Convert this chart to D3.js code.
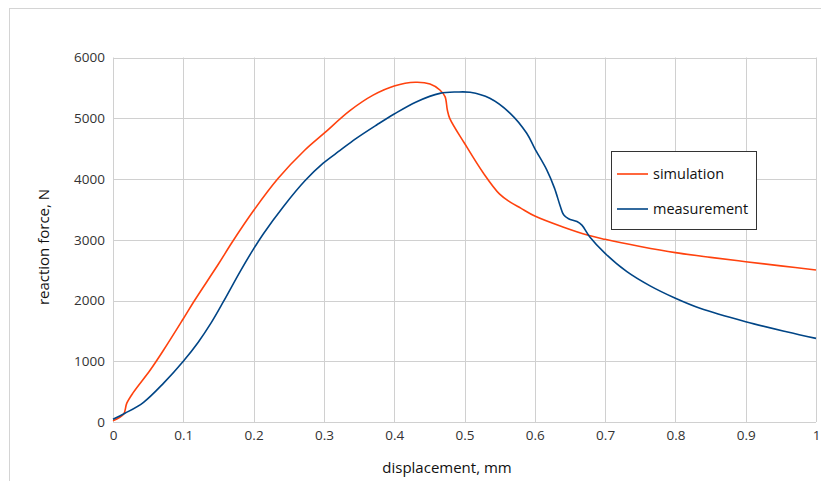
<!DOCTYPE html>
<html><head><meta charset="utf-8">
<script src="https://cdn.jsdelivr.net/npm/d3@7"></script>
<style>body{margin:0;background:#fff}svg{display:block}</style>
</head><body><svg id="c" width="821" height="481"></svg>
<script>
const seriesNames = ["simulation", "measurement"];
const xTicks = [0,0.1,0.2,0.3,0.4,0.5,0.6,0.7,0.8,0.9,1];
const yTicks = [0,1000,2000,3000,4000,5000,6000];
const simX = [0,0.015,0.0195,0.029,0.053,0.072,0.1,0.116,0.15,0.169,0.2,0.235,0.273,0.3,0.337,0.37,0.4,0.43,0.451,0.465,0.4723,0.4756,0.479,0.5,0.527,0.55,0.565,0.58,0.6,0.64,0.676,0.7,0.75,0.8,0.85,0.9,0.95,1.0];
const simY = [20,127,307,488,856,1185,1700,2000,2600,2950,3480,4011,4477,4750,5125,5380,5531,5592,5564,5465,5355,5136,4999,4588,4094,3750,3620,3520,3390,3210,3073,3007,2890,2788,2710,2639,2570,2502];
const measX = [0,0.017,0.043,0.072,0.1,0.121,0.14,0.157,0.181,0.2,0.214,0.242,0.273,0.299,0.323,0.345,0.375,0.4,0.432,0.465,0.489,0.508,0.536,0.565,0.5885,0.6,0.617,0.628,0.636,0.641,0.648,0.66,0.667,0.678,0.7,0.731,0.764,0.8,0.835,0.9,0.958,1.0];
const measY = [44,143,320,640,1000,1310,1640,1980,2480,2850,3100,3540,3970,4260,4470,4660,4889,5070,5273,5410,5432,5427,5328,5081,4752,4500,4150,3850,3560,3410,3345,3300,3240,3050,2776,2474,2240,2036,1871,1651,1486,1377];
const colors = ["#ff420e", "#004586"];

const svg = d3.select("#c");
const x = d3.scaleLinear().domain([0,1]).range([113,816]);
const y = d3.scaleLinear().domain([0,6000]).range([422,57.5]);
const font = "'Open Sans', 'DejaVu Sans', sans-serif";

// outer frame
svg.append("rect").attr("x",9.5).attr("y",8.5).attr("width",830).attr("height",500)
  .attr("fill","none").attr("stroke","#d4d4d4");

// grid
const grid = svg.append("g").attr("stroke","#d0d0d0").attr("stroke-width",1);
grid.selectAll(".gx").data(xTicks).join("line")
  .attr("x1",d=>Math.round(x(d))+0.5).attr("x2",d=>Math.round(x(d))+0.5)
  .attr("y1",y(6000)).attr("y2",y(0));
grid.selectAll(".gy").data(yTicks).join("line")
  .attr("x1",x(0)).attr("x2",x(1))
  .attr("y1",d=>Math.round(y(d))+0.5).attr("y2",d=>Math.round(y(d))+0.5);

// axes (labels only)
const xAxis = d3.axisBottom(x).tickValues(xTicks).tickSize(0).tickPadding(8).tickFormat(d=>String(d));
const gx = svg.append("g").attr("transform",`translate(0,${y(0)})`).call(xAxis);
gx.select(".domain").remove();
gx.selectAll("text").attr("font-family",font).attr("font-size",13.5).attr("fill","#333");
const yAxis = d3.axisLeft(y).tickValues(yTicks).tickSize(0).tickPadding(8).tickFormat(d=>String(d));
const gy = svg.append("g").attr("transform",`translate(${x(0)},0)`).call(yAxis);
gy.select(".domain").remove();
gy.selectAll("text").attr("font-family",font).attr("font-size",13.5).attr("fill","#333");

// titles
svg.append("text").attr("x",447).attr("y",473).attr("text-anchor","middle")
  .attr("font-family",font).attr("font-size",15).attr("fill","#111").text("displacement, mm");
svg.append("text").attr("transform","translate(49,247) rotate(-90)").attr("text-anchor","middle")
  .attr("font-family",font).attr("font-size",15).attr("fill","#111").text("reaction force, N");

// lines
const line = d3.line().x(d=>x(d[0])).y(d=>y(d[1])).curve(d3.curveCatmullRom.alpha(0.5));
const data = [d3.zip(simX,simY), d3.zip(measX,measY)];
svg.selectAll(".series").data(data).join("path")
  .attr("d",line).attr("fill","none")
  .attr("stroke",(d,i)=>colors[i]).attr("stroke-width",1.6);

// legend
const lg = svg.append("g");
lg.append("rect").attr("x",611.5).attr("y",151.5).attr("width",145).attr("height",78)
  .attr("fill","#fff").attr("stroke","#333").attr("stroke-width",1);
seriesNames.forEach((n,i)=>{
  const yy = 174 + i*35;
  lg.append("line").attr("x1",617).attr("x2",648).attr("y1",yy).attr("y2",yy)
    .attr("stroke",colors[i]).attr("stroke-width",1.6);
  lg.append("text").attr("x",653).attr("y",yy+5).attr("font-family",font).attr("font-size",14.5)
    .attr("fill","#111").text(n);
});
</script></body></html>
